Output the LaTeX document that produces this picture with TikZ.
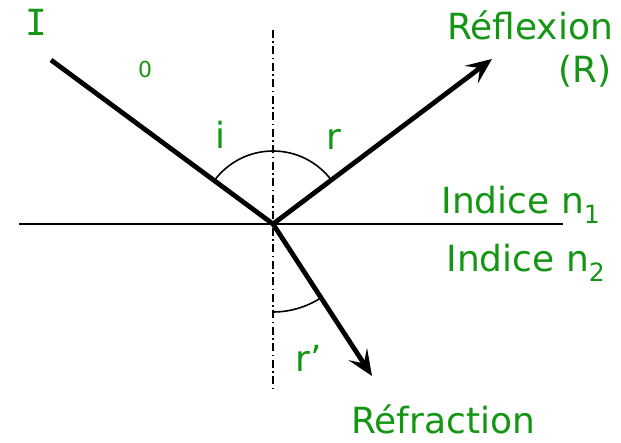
\documentclass[tikz,border=0pt]{standalone}
\usepackage{fontspec}
\setmainfont{DejaVu Sans}
\newfontfamily\monoI{DejaVu Sans Mono}
\usetikzlibrary{arrows.meta}
\definecolor{lbl}{RGB}{20,150,20}
\begin{document}
\begin{tikzpicture}[x=1pt,y=1pt,
  ray/.style={line width=4.8pt},
  rayarrow/.style={ray,-{Stealth[length=26pt,width=22pt,inset=11pt]}},
  anglearc/.style={line width=1.6pt},
  txt/.style={text=lbl,font=\fontsize{36}{42}\selectfont,inner sep=0pt},
  small/.style={text=lbl,font=\fontsize{22}{26}\selectfont,inner sep=0pt}]
\useasboundingbox (0,0) rectangle (621,443);
\coordinate (O) at (273,219);
\coordinate (Istart) at (51,383);
\coordinate (Rend) at (492,384);
\coordinate (Tend) at (372,67);
\coordinate (Hl) at (19,219);
\coordinate (Hr) at (563,219);
\coordinate (Vt) at (273,413);
\coordinate (Vb) at (273,51);
% interface
\draw[line width=2pt] (Hl) -- (Hr);
% normal
\draw[line width=1.5pt,dash pattern=on 8pt off 3.5pt on 1.5pt off 3.5pt] (Vt) -- (Vb);
% rays
\draw[ray] (Istart) -- (O);
\draw[rayarrow] (O) -- (Rend);
\draw[rayarrow] (O) -- (Tend);
% angles
\draw[anglearc] ([shift={(143.5:73pt)}]O) arc[start angle=143.5,end angle=90,radius=73pt];
\draw[anglearc] ([shift={(90:73pt)}]O) arc[start angle=90,end angle=37.2,radius=73pt];
\draw[anglearc] ([shift={(-90:88pt)}]O) arc[start angle=-90,end angle=-57,radius=88pt];
% labels
\node[txt] (lI) at (36,421) {\monoI I};
\node[small] (l0) at (145,373) {0};
\node[txt] (li) at (220,308) {i};
\node[txt] (lr) at (334,304) {r};
\node[txt] (lrefl) at (530,418) {Réflexion};
\node[txt] (lR) at (585,372) {(R)};
\node[txt] (ln1) at (521,238) {Indice n\textsubscript{1}};
\node[txt] (ln2) at (526,180) {Indice n\textsubscript{2}};
\node[txt] (lrp) at (309,85) {r’};
\node[txt] (lrefr) at (443,24) {Réfraction};
\end{tikzpicture}
\end{document}
